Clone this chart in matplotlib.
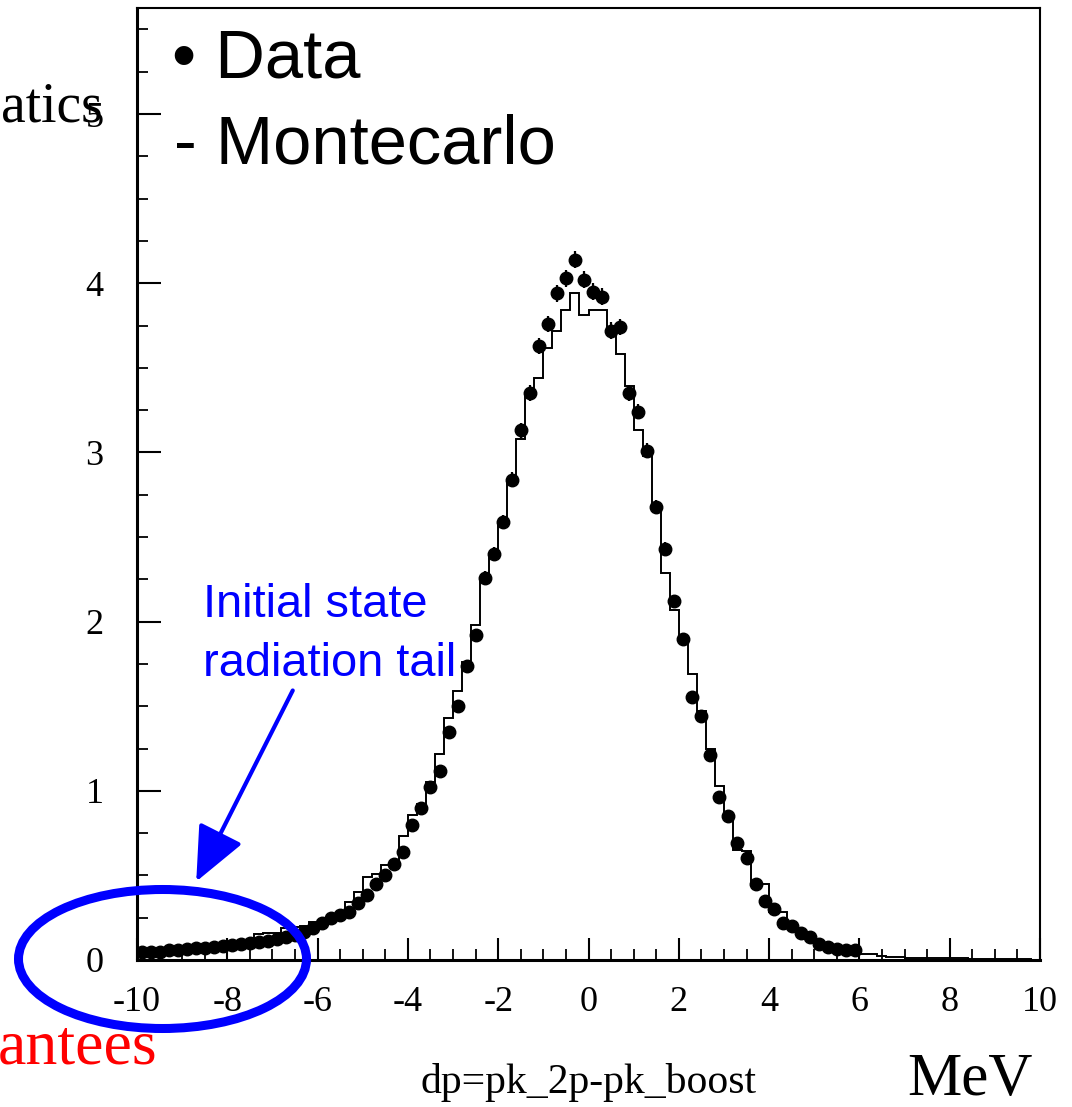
import numpy as np
import matplotlib
matplotlib.use("Agg")
import matplotlib.pyplot as plt
from matplotlib.patches import Ellipse

plt.rcParams['axes.unicode_minus'] = False

# ---------------- data ----------------
bin_edges = np.linspace(-10, 10, 101)          # 0.2 MeV bins
data_centers = np.round(np.arange(-9.9, 6.0, 0.2), 2)
data_values = [
    0.045, 0.045, 0.050, 0.058, 0.062, 0.066, 0.068, 0.072, 0.078, 0.082,
    0.088, 0.093, 0.100, 0.108, 0.115, 0.123, 0.135, 0.150, 0.165, 0.190,
    0.220, 0.250, 0.265, 0.285, 0.335, 0.385, 0.450, 0.500, 0.570, 0.640,
    0.800, 0.900, 1.020, 1.120, 1.350, 1.500, 1.740, 1.920, 2.260, 2.400,
    2.590, 2.840, 3.130, 3.350, 3.630, 3.760, 3.940, 4.030, 4.140, 4.020,
    3.950, 3.920, 3.720, 3.740, 3.350, 3.240, 3.010, 2.680, 2.430, 2.120,
    1.900, 1.555, 1.440, 1.210, 0.965, 0.850, 0.690, 0.600, 0.450, 0.350,
    0.300, 0.220, 0.200, 0.160, 0.135, 0.095, 0.075, 0.063, 0.059, 0.059,
]
mc_values = [
    0.058, 0.058, 0.060, 0.060, 0.060, 0.078, 0.078, 0.080, 0.080, 0.080,
    0.105, 0.108, 0.108, 0.155, 0.157, 0.157, 0.190, 0.195, 0.200, 0.225,
    0.230, 0.260, 0.280, 0.340, 0.400, 0.490, 0.510, 0.560, 0.560, 0.730,
    0.860, 0.920, 1.050, 1.220, 1.430, 1.590, 1.760, 1.980, 2.265, 2.390,
    2.580, 2.830, 3.080, 3.340, 3.440, 3.620, 3.720, 3.840, 3.940, 3.810,
    3.840, 3.840, 3.720, 3.580, 3.390, 3.130, 2.980, 2.680, 2.290, 2.070,
    1.910, 1.690, 1.470, 1.250, 1.030, 0.860, 0.650, 0.645, 0.455, 0.450,
    0.285, 0.285, 0.210, 0.175, 0.145, 0.108, 0.080, 0.070, 0.060, 0.055,
    0.036, 0.034, 0.026, 0.020, 0.020, 0.014, 0.014, 0.013, 0.012, 0.011,
    0.010, 0.009, 0.008, 0.006, 0.005, 0.005, 0.004, 0.003, 0.003, 0.002,
]
err_scale = 0.025   # statistical error ~ err_scale*sqrt(value)
x_ticks = [-10, -8, -6, -4, -2, 0, 2, 4, 6, 8, 10]
y_ticks = [0, 1, 2, 3, 4, 5]

# ---------------- figure ----------------
W, H = 1072, 1107
fig = plt.figure(figsize=(W / 100, H / 100), dpi=100)

def fx(x):
    return x / W

def fy(y):
    return 1 - y / H

ax = fig.add_axes([fx(137), fy(960), (1040 - 137) / W, (960 - 8) / H])

ax.stairs(mc_values, bin_edges, color='black', lw=1.4, baseline=None, zorder=2)
dv = np.array(data_values)
ax.errorbar(data_centers, dv, yerr=err_scale * np.sqrt(dv), fmt='o',
            color='black', ms=9, elinewidth=1.6, capsize=0, zorder=3)

ax.set_xlim(-10, 10)
ax.set_ylim(0, 5.627)
ax.set_xticks(x_ticks)
ax.set_xticklabels([str(v) for v in x_ticks])
ax.set_xticks(np.arange(-10, 10.01, 0.5), minor=True)
ax.set_yticks(y_ticks)
ax.set_yticklabels([str(v) for v in y_ticks])
ax.set_yticks(np.arange(0, 5.63, 0.25), minor=True)

serif = 'Liberation Serif'
for lab in ax.get_xticklabels() + ax.get_yticklabels():
    lab.set_fontfamily(serif)
    lab.set_fontsize(26)

ax.tick_params(axis='x', which='major', direction='in', length=16, width=1.5, pad=19)
ax.tick_params(axis='x', which='minor', direction='in', length=8, width=1.3)
ax.tick_params(axis='y', which='major', direction='in', length=17, width=1.5, pad=24)
ax.tick_params(axis='y', which='minor', direction='in', length=8, width=1.3)
ax.spines['left'].set_linewidth(2.2)
ax.spines['bottom'].set_linewidth(2.2)
ax.spines['top'].set_linewidth(1.5)
ax.spines['right'].set_linewidth(1.5)

# ---------------- texts ----------------
sans = 'Liberation Sans'
fig.text(fx(172), fy(78), '• Data', family=sans, fontsize=49.5, va='baseline', ha='left')
fig.text(fx(174), fy(163), '- Montecarlo', family=sans, fontsize=49.5, va='baseline', ha='left')

fig.text(fx(103), fy(121), 'atics', family=serif, fontsize=40, va='baseline', ha='right')
fig.text(fx(-2), fy(1064), 'antees', family=serif, fontsize=46, va='baseline', ha='left',
         color='red')
fig.text(fx(588), fy(1093), 'dp=pk_2p-pk_boost', family=serif, fontsize=30,
         va='baseline', ha='center')
fig.text(fx(907), fy(1095), 'MeV', family=serif, fontsize=44, va='baseline', ha='left')

blue = (0, 0, 1)
fig.text(fx(203), fy(617), 'Initial state', family=sans, fontsize=33.8, color=blue,
         va='baseline', ha='left')
fig.text(fx(203), fy(676), 'radiation tail', family=sans, fontsize=33.8, color=blue,
         va='baseline', ha='left')

fig.add_artist(matplotlib.patches.FancyArrowPatch(
    (fx(294), fy(688)), (fx(195), fy(884)), transform=fig.transFigure,
    arrowstyle='-|>,head_length=1.7,head_width=0.75', mutation_scale=20,
    color=blue, lw=3, zorder=10))

fig.add_artist(Ellipse((fx(162.5), fy(959)), 288 / W, 139 / H,
                       transform=fig.transFigure, fill=False, edgecolor=blue,
                       lw=6.5, zorder=10))

fig.savefig('out.png', dpi=100)
